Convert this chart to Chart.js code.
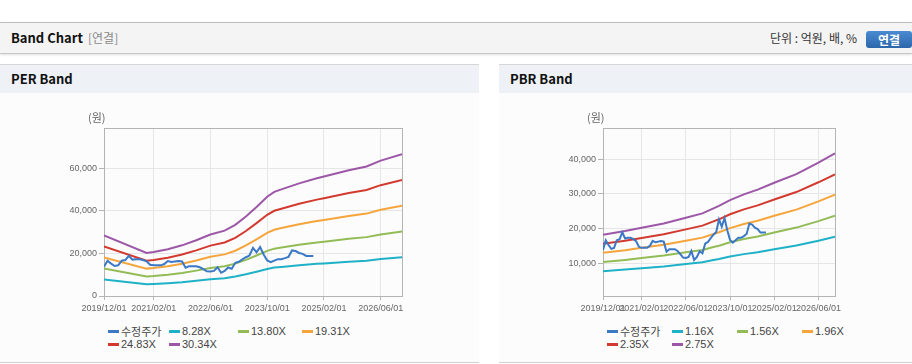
<!DOCTYPE html>
<html><head><meta charset="utf-8">
<script src="https://cdn.jsdelivr.net/npm/chart.js@4"></script>
<style>
html,body{margin:0;padding:0;}
body{width:912px;height:364px;overflow:hidden;background:#fff;position:relative;font-family:"Noto Sans CJK KR","Noto Sans",sans-serif;}
#topbar{position:absolute;left:0;top:22px;width:912px;height:30px;background:#f4f4f4;border-top:1px solid #bdbdbd;border-bottom:1px solid #c9c9c9;box-shadow:0 1px 2px rgba(0,0,0,.12);}
#topbar .title{position:absolute;left:11px;top:0;line-height:30px;font-size:13px;font-weight:bold;color:#111;}
#topbar .sub{position:absolute;left:88px;top:0;line-height:30px;font-size:12px;color:#8a8a8a;}
#topbar .unit{position:absolute;left:770px;top:0;line-height:30px;font-size:12px;color:#333;}
#topbar .btn{position:absolute;left:866px;top:8px;width:46px;height:17px;line-height:17px;border-radius:3px;background:linear-gradient(#4b8bd1,#2c66ab);color:#fff;font-size:12px;font-weight:bold;text-align:center;}
.panel{position:absolute;top:64px;height:297px;background:#fcfcfc;border-top:1px solid #d6d6d6;border-bottom:1px solid #d0d0d0;}
.phead{height:28px;background:#eef2f6;line-height:28px;padding-left:11px;font-size:13px;font-weight:bold;color:#111;}
.panel canvas{position:absolute;left:0;top:28px;}
.lg{position:absolute;display:flex;align-items:center;height:14px;font-family:"Liberation Sans","Noto Sans CJK KR",sans-serif;font-size:11px;color:#444;white-space:nowrap;}
.lg i{display:inline-block;width:11px;height:3px;margin-right:2px;}
</style></head>
<body>
<div id="topbar">
  <div class="title">Band Chart</div>
  <div class="sub">[연결]</div>
  <div class="unit">단위 : 억원, 배, %</div>
  <div class="btn">연결</div>
</div>
<div class="panel" id="perPanel" style="left:0;width:479px;">
  <div class="phead">PER Band</div>
  <canvas id="perChart" width="479" height="228" style="width:479px;height:228px;"></canvas>
</div>
<div class="panel" id="pbrPanel" style="left:499px;width:413px;">
  <div class="phead">PBR Band</div>
  <canvas id="pbrChart" width="413" height="228" style="width:413px;height:228px;"></canvas>
</div>
<script>
// ---- data ----
const tickMonths = [0, 14, 30, 46, 62, 78];          // months since 2019/12
const tickLabels = ["2019/12/01", "2021/02/01", "2022/06/01", "2023/10/01", "2025/02/01", "2026/06/01"];
const lastMonth = 84;                                  // 2026/12

const priceName = "수정주가";
// monthly adjusted price, 2019/12 .. 2024/11
const price = [13800,16600,15200,14100,14400,16600,16900,18900,17100,17300,
               17300,16900,16300,14700,14400,14400,14400,15000,16400,16000,
               16200,16400,16200,13300,14000,14000,14000,13500,12600,11600,
               11500,11800,13500,10900,11800,13400,12800,15600,16100,17200,
               18200,19000,22600,20500,23000,19500,16700,15900,16600,17300,
               17300,17800,18400,21400,21100,20200,19800,18800,18800,18800];

const perNames = ["8.28X", "13.80X", "19.31X", "24.83X", "30.34X"];
const perBandMonths = [0,12,14,18,22,26,30,34,37,40,43,46,48,50,55,60,62,69,74,78,84];
const per828  = [7750,5510,5650,6000,6490,7150,7890,8380,9110,10180,11410,12720,13340,13670,14440,15090,15310,16130,16590,17360,18180];
const per1380 = [12920,9190,9410,10010,10820,11920,13140,13960,15190,16960,19010,21190,22240,22790,24060,25150,25510,26880,27650,28920,30290];
const per1931 = [18080,12860,13180,14000,15150,16680,18390,19540,21260,23740,26610,29660,31120,31890,33670,35200,35710,37620,38700,40480,42390];
const per2483 = [23240,16530,16940,18000,19480,21440,23650,25120,27330,30530,34210,38140,40020,41000,43290,45260,45910,48370,49760,52050,54510];
const per3034 = [28400,20200,20700,22000,23800,26200,28900,30700,33400,37300,41800,46600,48900,50100,52900,55300,56100,59100,60800,63600,66600];
const perYTicks = [0, 20000, 40000, 60000];

const pbrNames = ["1.16X", "1.56X", "1.96X", "2.35X", "2.75X"];
const pbrBandMonths = [0,8,14,22,30,36,40,42,46,51,56,62,70,78,84];
const pbr116 = [7680,8120,8520,9050,9740,10270,10880,11180,11890,12590,13160,14000,15060,16450,17590];
const pbr156 = [10320,10920,11460,12170,13100,13810,14640,15030,16000,16930,17700,18830,20250,22120,23660];
const pbr196 = [12970,13720,14400,15290,16460,17350,18390,18890,20100,21270,22240,23660,25440,27800,29720];
const pbr235 = [15550,16450,17260,18330,19740,20810,22050,22640,24100,25510,26660,28370,30510,33330,35630];
const pbr275 = [18200,19250,20200,21450,23100,24350,25800,26500,28200,29850,31200,33200,35700,39000,41700];
const pbrYTicks = [10000, 20000, 30000, 40000];

const unitLabel = "(원)";
const colors = ["#3b78c6", "#1fb1c7", "#93bc57", "#f5a53b", "#d33a2f", "#9c58a7"];

// ---- chart ----
const framePlugin = {
  id: 'frame',
  beforeDatasetsDraw(chart) {
    const {ctx, chartArea: a} = chart;
    ctx.save();
    ctx.strokeStyle = '#b4b4b4';
    ctx.lineWidth = 1;
    ctx.strokeRect(Math.round(a.left) + 0.5, Math.round(a.top) + 0.5, Math.round(a.right - a.left), Math.round(a.bottom - a.top));
    ctx.fillStyle = '#666';
    ctx.font = '11px "Noto Sans CJK KR", sans-serif';
    ctx.textBaseline = 'middle';
    ctx.textAlign = 'left';
    ctx.fillText(unitLabel, a.left - 16, a.top - 10);
    ctx.restore();
  }
};

function pts(xs, ys) { return ys.map((y, i) => ({x: xs[i], y: y})); }

function makeChart(canvasId, panelId, names, bandMonths, bands, yMin, yMax, yTicks, legendCols) {
  const datasets = [{label: priceName, data: price.map((y, i) => ({x: i, y: y})), borderColor: colors[0]}];
  bands.forEach((b, k) => datasets.push({label: names[k], data: pts(bandMonths, b), borderColor: colors[k + 1]}));
  datasets.forEach(d => { d.borderWidth = 2; d.pointRadius = 0; d.tension = 0; d.fill = false; });

  new Chart(document.getElementById(canvasId), {
    type: 'line',
    data: {datasets: datasets},
    options: {
      responsive: false, animation: false, devicePixelRatio: 1,
      layout: {padding: {left: 0, top: 35, right: 77, bottom: 0}},
      plugins: {legend: {display: false}, tooltip: {enabled: false}},
      scales: {
        x: {
          type: 'linear', min: 0, max: lastMonth,
          afterBuildTicks: s => { s.ticks = tickMonths.map(v => ({value: v})); },
          afterFit: s => { s.height = 25; },
          border: {display: false},
          grid: {color: '#e6e6e6', tickColor: '#b4b4b4', tickLength: 4},
          ticks: {autoSkip: false, maxRotation: 0, padding: 3, color: '#666',
                  font: {family: 'Liberation Sans', size: 9},
                  callback: v => tickLabels[tickMonths.indexOf(v)]}
        },
        y: {
          min: yMin, max: yMax,
          afterBuildTicks: s => { s.ticks = yTicks.map(v => ({value: v})); },
          afterFit: s => { s.width = 104; },
          border: {display: false},
          grid: {color: '#e6e6e6', tickColor: '#b4b4b4', tickLength: 5},
          ticks: {padding: 2, color: '#666', font: {family: 'Liberation Sans', size: 9},
                  callback: v => v.toLocaleString('en-US')}
        }
      }
    },
    plugins: [framePlugin]
  });

  // legend
  const panel = document.getElementById(panelId);
  const rowTops = [259, 272];
  datasets.forEach((d, k) => {
    const row = k < 4 ? 0 : 1, col = k < 4 ? k : k - 4;
    const el = document.createElement('div');
    el.className = 'lg';
    el.style.left = (108 + legendCols[col]) + 'px';
    el.style.top = rowTops[row] + 'px';
    const m = document.createElement('i');
    m.style.background = d.borderColor;
    el.appendChild(m);
    el.appendChild(document.createTextNode(d.label));
    panel.appendChild(el);
  });
}

makeChart('perChart', 'perPanel', perNames, perBandMonths, [per828, per1380, per1931, per2483, per3034], 0, 78900, perYTicks, [0, 61, 130, 194]);
makeChart('pbrChart', 'pbrPanel', pbrNames, pbrBandMonths, [pbr116, pbr156, pbr196, pbr235, pbr275], 500, 49000, pbrYTicks, [0, 65, 130, 195]);
</script>
</body></html>
